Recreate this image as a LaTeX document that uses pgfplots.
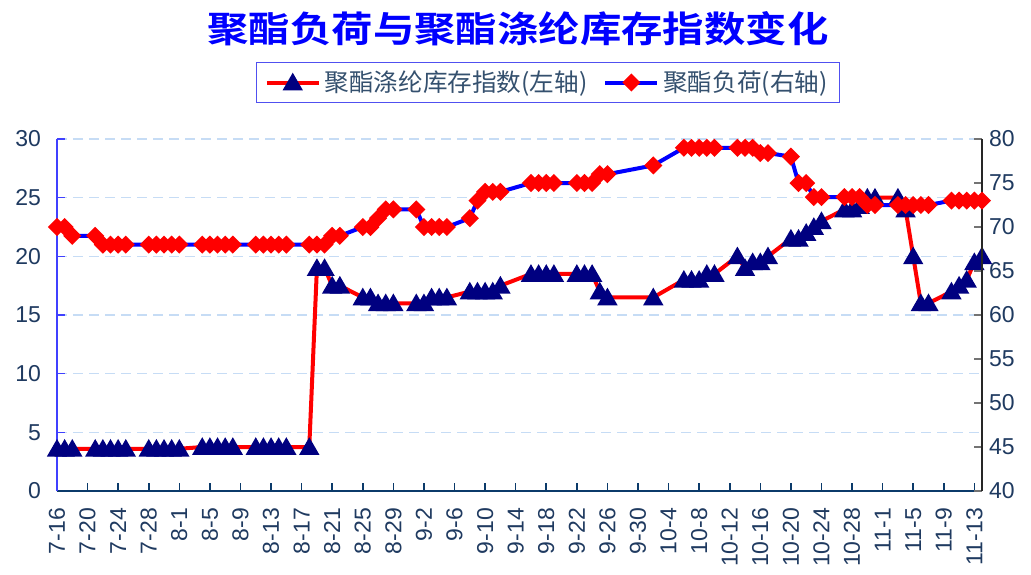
\documentclass[border=0pt]{standalone}
\usepackage{fontspec}
\setmainfont{Liberation Sans}
\newfontfamily\cjk{Noto Sans CJK SC}[BoldFont={Noto Sans CJK SC Bold}]
\usepackage{graphicx}
\usepackage{pgfplots}
\pgfplotsset{compat=1.18}
\definecolor{tickc}{HTML}{1F3A60}
\definecolor{gridc}{HTML}{C6DCF5}
\definecolor{navy}{HTML}{000080}
\definecolor{xline}{HTML}{0B3A6A}
\definecolor{lgdtxt}{HTML}{34506E}
\definecolor{lgdbox}{HTML}{5050F0}

\begin{document}
\begin{tikzpicture}
\path[use as bounding box] (0,0) rectangle (515.5pt,-287pt);
\pgfplotsset{
  base/.style={
    scale only axis, width=462.5pt, height=176pt,
    at={(28.5pt,-245.5pt)}, anchor=south west,
    xmin=0, xmax=121, clip=false,
    xtick={0,4,...,120},
    tick align=inside, major tick length=4pt,
    /pgf/number format/assume math mode=true,
    tick label style={font=\fontsize{11.5}{12}\selectfont, text=tickc},
    legend image code/.code={\draw[mark repeat=2, mark phase=2, ##1] plot coordinates {(0pt,0pt) (13pt,0pt) (26pt,0pt)};},
  },
  tri/.style={red, line width=2pt, mark=triangle*, mark size=3.9pt, mark options={navy, solid, yshift=-1pt}},
}
% left axis: inventory index
\begin{axis}[base,
  ymin=0, ymax=30, ytick={0,5,...,30},
  axis x line*=bottom, axis y line*=left,
  x axis line style={xline, line width=1.2pt, -},
  y axis line style={blue!75, line width=0.8pt, -},
  xtick style={xline, line width=0.8pt},
  ytick style={blue!75, line width=0.8pt},
  xticklabels={7-16,7-20,7-24,7-28,8-1,8-5,8-9,8-13,8-17,8-21,8-25,8-29,9-2,9-6,9-10,9-14,9-18,9-22,9-26,9-30,10-4,10-8,10-12,10-16,10-20,10-24,10-28,11-1,11-5,11-9,11-13},
  xticklabel style={rotate=90, anchor=east, font=\fontsize{11.5}{12}\selectfont},
  xticklabel shift=5pt,
  yticklabel shift=4.5pt,
  ymajorgrids, grid style={gridc, dash pattern=on 5pt off 3pt, line width=0.8pt},
]
\addplot[tri] coordinates {
(0,3.6) (1,3.6) (2,3.6)
(5,3.6) (6,3.6) (7,3.6) (8,3.6) (9,3.6)
(12,3.6) (13,3.6) (14,3.6) (15,3.6) (16,3.6)
(19,3.75) (20,3.75) (21,3.75) (22,3.75) (23,3.75)
(26,3.75) (27,3.75) (28,3.75) (29,3.75) (30,3.75)
(33,3.75) (34,19) (35,19) (36,17.5) (37,17.5)
(40,16.5) (41,16.5) (42,16) (43,16) (44,16)
(47,16) (48,16) (49,16.5) (50,16.5) (51,16.5)
(54,17) (55,17) (56,17) (57,17) (58,17.5)
(62,18.5) (63,18.5) (64,18.5) (65,18.5)
(68,18.5) (69,18.5) (70,18.5) (71,17) (72,16.5)
(78,16.5)
(82,18) (83,18) (84,18) (85,18.5) (86,18.5)
(89,20) (90,19) (91,19.5) (92,19.5) (93,20)
(96,21.5) (97,21.5) (98,22) (99,22.5) (100,23)
(103,24) (104,24) (105,24.3) (106,25) (107,25)
(110,25) (111,24) (112,20) (113,16) (114,16)
(117,17) (118,17.5) (119,18) (120,19.5) (121,20)
};
\end{axis}
% right axis: polyester load
\begin{axis}[base,
  ymin=40, ymax=80, ytick={40,45,...,80},
  axis x line=none, axis y line*=right,
  y axis line style={black!85, line width=0.8pt, -},
  ytick style={black!55, line width=0.8pt},
  legend columns=2,
  legend style={at={(0.531,1.1605)}, anchor=center, draw=lgdbox, line width=0.6pt,
    font=\cjk\fontsize{12.3}{13}\selectfont, inner ysep=2pt, inner xsep=4pt,
    /tikz/every even column/.append style={column sep=6pt}},
]
\addlegendimage{tri}
\addlegendentry{\textcolor{lgdtxt}{聚酯涤纶库存指数(左轴)}}
\addplot[blue, line width=2pt, mark=square*, mark size=2.2pt, mark options={red, solid, rotate=45}] coordinates {
(0,70) (1,70) (2,69)
(5,69) (6,68) (7,68) (8,68) (9,68)
(12,68) (13,68) (14,68) (15,68) (16,68)
(19,68) (20,68) (21,68) (22,68) (23,68)
(26,68) (27,68) (28,68) (29,68) (30,68)
(33,68) (34,68) (35,68) (36,69) (37,69)
(40,70) (41,70) (42,71) (43,72) (44,72)
(47,72) (48,70) (49,70) (50,70) (51,70)
(54,71) (55,73) (56,74) (57,74) (58,74)
(62,75) (63,75) (64,75) (65,75)
(68,75) (69,75) (70,75) (71,76) (72,76)
(78,77)
(82,79) (83,79) (84,79) (85,79) (86,79)
(89,79) (90,79) (91,79) (92,78.4) (93,78.4)
(96,78) (97,75) (98,75) (99,73.4) (100,73.4)
(103,73.4) (104,73.4) (105,73.4) (106,72.5) (107,72.5)
(110,72.5) (111,72.5) (112,72.5) (113,72.5) (114,72.5)
(117,73) (118,73) (119,73) (120,73) (121,73)
};
\addlegendentry{\textcolor{lgdtxt}{聚酯负荷(右轴)}}
\end{axis}
\node[font=\cjk\bfseries\fontsize{18}{20}\selectfont, text=blue] at (259pt,-14.5pt)
  {\scalebox{1.15}[1]{聚酯负荷与聚酯涤纶库存指数变化}};
\end{tikzpicture}
\end{document}
